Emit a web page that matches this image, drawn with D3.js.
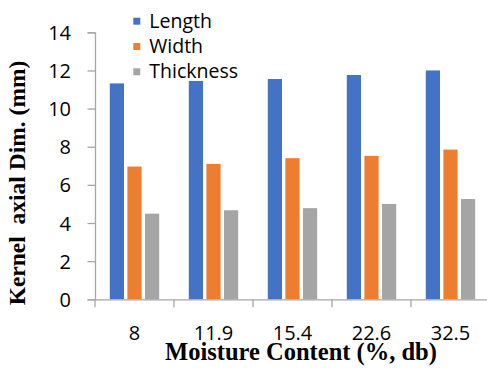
<!DOCTYPE html>
<html>
<head>
<meta charset="utf-8">
<script src="https://cdn.jsdelivr.net/npm/d3@7"></script>
<style>
  html, body { margin: 0; padding: 0; background: #fff; }
  svg { display: block; }
</style>
</head>
<body>
<svg id="chart" width="487" height="368"></svg>
<script>
// Kernel axial dimensions at different moisture contents
const categories = ["8", "11.9", "15.4", "22.6", "32.5"];
const seriesNames = ["Length", "Width", "Thickness"];
const lengthValues = [11.32, 11.45, 11.55, 11.76, 12.0];
const widthValues = [6.96, 7.1, 7.4, 7.52, 7.85];
const thicknessValues = [4.49, 4.67, 4.78, 5.0, 5.26];
const yTicks = [0, 2, 4, 6, 8, 10, 12, 14];
const colors = ["#4472C4", "#ED7D31", "#A5A5A5"];

const series = [lengthValues, widthValues, thicknessValues];

const svg = d3.select("#chart");
const plotLeft = 95, plotRight = 490, plotTop = 32.3, plotBottom = 299.3;
const sansFont = "'Open Sans', 'Liberation Sans', sans-serif";
const serifFont = "'Liberation Serif', 'Times New Roman', serif";
const axisGray = "#a6a6a6";

const x = d3.scaleBand().domain(categories).range([plotLeft, plotRight]).paddingInner(0).paddingOuter(0);
const y = d3.scaleLinear().domain([0, 14]).range([plotBottom, plotTop]);

// bar layout inside each band
const barW = 14.2, gap = 3.4;
const groupW = barW * 3 + gap * 2;
const sub = d3.scaleOrdinal().domain([0, 1, 2]).range([0, barW + gap, 2 * (barW + gap)]);

// bars
series.forEach((vals, si) => {
  svg.append("g").selectAll("rect")
    .data(vals)
    .join("rect")
    .attr("x", (d, i) => x(categories[i]) + (x.bandwidth() - groupW) / 2 + sub(si))
    .attr("y", d => y(d))
    .attr("width", barW)
    .attr("height", d => plotBottom - y(d))
    .attr("fill", colors[si]);
});

// y axis
const yAxis = d3.axisLeft(y).tickValues(yTicks).tickSize(7.5).tickPadding(16.5).tickFormat(d3.format("d"));
const gy = svg.append("g").attr("transform", `translate(${plotLeft},0)`).call(yAxis);
gy.select(".domain").attr("stroke", axisGray).attr("stroke-width", 1.3);
gy.selectAll(".tick line").attr("stroke", axisGray).attr("stroke-width", 1.3);
gy.selectAll(".tick text")
  .attr("font-family", sansFont)
  .attr("font-size", 20).attr("fill", "#000").attr("dy", "0.35em");

// x axis
const xAxis = d3.axisBottom(x).tickSize(0);
const gx = svg.append("g").attr("transform", `translate(0,${plotBottom})`).call(xAxis);
gx.select(".domain").attr("stroke", axisGray).attr("stroke-width", 1.3);
gx.selectAll(".tick text")
  .attr("font-family", sansFont)
  .attr("font-size", 20).attr("fill", "#000")
  .attr("y", 40.7).attr("dy", 0);
// category separator ticks at band edges
gx.append("g").selectAll("line")
  .data(categories)
  .join("line")
  .attr("x1", d => x(d)).attr("x2", d => x(d))
  .attr("y1", 0).attr("y2", 8)
  .attr("stroke", axisGray).attr("stroke-width", 1.3);

// axis titles
svg.append("text")
  .attr("x", 301).attr("y", 360)
  .attr("text-anchor", "middle")
  .attr("font-family", serifFont)
  .attr("font-weight", "bold").attr("font-size", 24.5)
  .text("Moisture Content (%, db)");

svg.append("text")
  .attr("transform", "translate(25,183) rotate(-90)")
  .attr("text-anchor", "middle")
  .attr("font-family", serifFont)
  .attr("font-weight", "bold").attr("font-size", 23.5)
  .attr("xml:space", "preserve")
  .style("white-space", "pre")
  .text("Kernel  axial Dim. (mm)");

// legend
const legend = svg.append("g").attr("transform", "translate(133.3,27.7)");
seriesNames.forEach((name, i) => {
  const row = legend.append("g").attr("transform", `translate(0,${i * 25.3})`);
  row.append("rect").attr("x", 0).attr("y", -10).attr("width", 7).attr("height", 7).attr("fill", colors[i]);
  row.append("text").attr("x", 16).attr("y", 0)
    .attr("font-family", sansFont)
    .attr("font-size", 19.5).attr("fill", "#000").text(name);
});
</script>
</body>
</html>
